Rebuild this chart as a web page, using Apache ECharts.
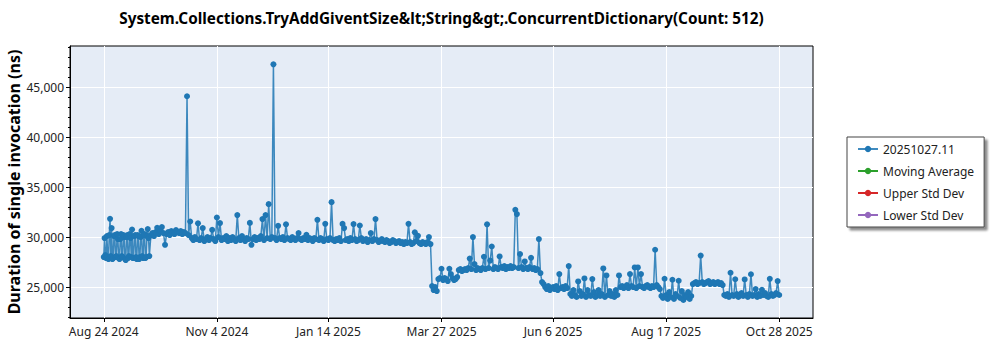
<!DOCTYPE html>
<html><head><meta charset="utf-8">
<script src="https://cdn.jsdelivr.net/npm/echarts@6/dist/echarts.min.js"></script>
<style>html,body{margin:0;padding:0;background:#fff}#c{width:1000px;height:350px}</style>
</head><body><div id="c"></div>
<script>
const titleText = 'System.Collections.TryAddGiventSize&lt;String&gt;.ConcurrentDictionary(Count: 512)';
const yAxisTitle = 'Duration of single invocation (ns)';
const seriesNames = ['20251027.11', 'Moving Average', 'Upper Std Dev', 'Lower Std Dev'];
const seriesColors = ['#1f77b4', '#2ca02c', '#d62728', '#9467bd'];
// one run per day starting at this date
const startDate = '2024-08-24';
const durations = [
  28000, 28200, 30100, 27800, 31830, 30900, 27900, 30200, 28100, 29800,
  27800, 30300, 28000, 30000, 27700, 30200, 28100, 29900, 30760, 27900,
  30200, 27800, 30100, 28000, 30630, 27900, 30300, 28000, 30800, 28100,
  30200, 30400, 30100, 30500, 30930, 30300, 30600, 31000, 30400, 29230,
  30300, 30500, 30200, 30600, 30400, 30300, 30700, 30500, 30400, 30600,
  30300, 30500, 30400, 44100, 30200, 31560, 29900, 29700, 30000, 29800,
  31380, 29700, 29900, 30900, 29600, 29800, 30000, 29700, 29900, 30730,
  29800, 29600, 31960, 30000, 31400, 29700, 29900, 29800, 30100, 29600,
  29900, 29700, 30000, 29800, 29600, 32200, 29900, 29700, 30100, 29800,
  29600, 29900, 29800, 31420, 29230, 29800, 30000, 29700, 29900, 29800,
  30100, 31800, 29700, 32200, 29900, 33300, 29800, 30000, 47300, 29900,
  29700, 31130, 29900, 29800, 30000, 29700, 31280, 29900, 29800, 29700,
  30000, 29800, 29700, 29900, 30400, 29800, 29700, 29900, 29800, 30230,
  29700, 29900, 29800, 29600, 29900, 29800, 31730, 29700, 29900, 29800,
  29600, 31330, 29800, 29700, 29900, 33500, 29700, 29600, 29800, 29700,
  29900, 29600, 31320, 30900, 29700, 29800, 29600, 29900, 29700, 31300,
  29800, 29600, 29700, 31160, 29900, 29600, 29700, 29800, 29500, 29700,
  30400, 29600, 29800, 31800, 29700, 29500, 29600, 29800, 29600, 29500,
  29700, 29600, 29400, 29500, 29700, 29600, 29400, 29500, 29600, 29400,
  29500, 29300, 29500, 29400, 31330, 29500, 29300, 29400, 30480, 29600,
  30130, 29400, 29300, 29500, 29400, 29300, 29500, 30000, 29300, 25100,
  24700, 25000, 24600, 25800, 25900, 26830, 25700, 25900, 25800, 25600,
  26830, 26300, 25900, 25700, 25800, 26000, 26700, 26800, 26600, 26700,
  26800, 26700, 26900, 27850, 26800, 30000, 27300, 26700, 26900, 26800,
  26700, 26900, 28030, 26800, 31280, 26900, 27650, 29060, 26800, 27000,
  26900, 26800, 28060, 27000, 26900, 27100, 26800, 27000, 26900, 27100,
  26900, 27000, 32730, 32300, 26900, 28300, 27000, 26800, 27560, 26900,
  26800, 27000, 27920, 26800, 26900, 26700, 26800, 29800, 26400, 25500,
  25300, 25000, 24800, 25100, 24700, 24900, 25000, 24800, 25100, 24700,
  26300, 24900, 25000, 24800, 25100, 24900, 27100, 24300, 24100, 24700,
  24200, 24000, 25560, 24600, 24100, 24300, 25860, 24000, 24700, 24200,
  24100, 25800, 24500, 24000, 24200, 24700, 24100, 24300, 26860, 24000,
  26160, 24200, 24600, 24100, 24300, 24000, 24700, 24200, 26160, 25000,
  25100, 24900, 25000, 25200, 24900, 26300, 25100, 25000, 26960, 24900,
  26960, 25100, 26300, 25000, 24900, 25100, 25200, 25000, 24900, 25100,
  25000, 28730, 25200, 25000, 24800, 24100, 23900, 25830, 24200, 23800,
  24500, 24000, 25730, 23800, 24300, 24100, 25630, 23900, 24600, 23700,
  24200, 24000, 24500, 23800, 24100, 25300, 25400, 25500, 25300, 25400,
  28150, 25500, 25300, 25400, 25500, 25600, 25300, 25400, 25500, 25300,
  25400, 25500, 25300, 25400, 25200, 24200, 24100, 24300, 24000, 26430,
  24200, 24100, 25780, 24300, 24000, 24200, 24400, 24100, 25760, 24200,
  24000, 24300, 26280, 24100, 24200, 24800, 24000, 24300, 24100, 24730,
  24200, 24400, 24100, 24000, 25820, 24300, 24100, 24200, 24400, 25600,
  24200
];
// second (midday) run on each of the first days
const earlyMiddayDurations = [
  29900, 27900, 28000, 30200, 28100, 27800, 30100, 28000, 30300, 27900,
  29800, 28100, 30200, 27800, 30000, 27900, 30300, 28000, 27900, 30100,
  28000, 30200, 27800, 30000, 28100, 30200, 27900, 30100, 29900
];
const xTickDates = ['2024-08-24', '2024-11-04', '2025-01-14', '2025-03-27', '2025-06-06', '2025-08-17', '2025-10-28'];
const yTickValues = [25000, 30000, 35000, 40000, 45000];
const yMinorTickValues = [22000, 23000, 24000, 25000, 26000, 27000, 28000, 29000, 30000, 31000, 32000, 33000, 34000, 35000,
  36000, 37000, 38000, 39000, 40000, 41000, 42000, 43000, 44000, 45000, 46000, 47000, 48000, 49000];

const DAY = 86400000;
const MONTHS = ['Jan','Feb','Mar','Apr','May','Jun','Jul','Aug','Sep','Oct','Nov','Dec'];
function toTs(s) { const p = s.split('-').map(Number); return Date.UTC(p[0], p[1] - 1, p[2]); }
const t0 = toTs(startDate);
const mainData = durations.map((v, i) => [t0 + i * DAY, v])
  .concat(earlyMiddayDurations.map((v, i) => [t0 + i * DAY + DAY / 2, v]))
  .sort((a, b) => a[0] - b[0]);
const tFirst = mainData[0][0], tLast = mainData[mainData.length - 1][0];
const xPad = (tLast - tFirst) * 0.05;
const xTicks = xTickDates.map(toTs);
function fmtDate(v) { const d = new Date(v); return MONTHS[d.getUTCMonth()] + ' ' + d.getUTCDate() + ' ' + d.getUTCFullYear(); }

const FONT = '"Noto Sans", "Open Sans", sans-serif';
const chart = echarts.init(document.getElementById('c'), null, {renderer: 'svg', width: 1000, height: 350});
chart.setOption({
  animation: false,
  textStyle: {fontFamily: FONT},
  grid: {left: 70, top: 46, right: 187, bottom: 32, show: true, backgroundColor: '#E5ECF6',
    borderColor: '#000', borderWidth: 1, containLabel: false, outerBoundsMode: 'none'},
  graphic: [
    {type: 'text', x: 441.5, y: 18, style: {text: titleText, x: 0, y: 0, align: 'center', verticalAlign: 'middle',
      font: 'bold 15.3px ' + FONT, fill: '#000'}},
    {type: 'text', rotation: Math.PI / 2, x: 14, y: 182, style: {text: yAxisTitle, x: 0, y: 0, align: 'center', verticalAlign: 'middle',
      font: 'bold 16px ' + FONT, fill: '#000'}}
  ],
  xAxis: {
    type: 'value', min: tFirst - xPad, max: tLast + xPad,
    axisLine: {show: true, lineStyle: {color: '#000', width: 1}},
    axisTick: {show: true, customValues: xTicks, length: 4, lineStyle: {color: '#000'}},
    axisLabel: {customValues: xTicks, formatter: fmtDate, fontSize: 12, color: '#222', margin: 7, fontFamily: FONT},
    splitLine: {show: true, lineStyle: {color: '#fff', width: 1}}
  },
  yAxis: [{
    type: 'value', min: 21900, max: 49130,
    axisLine: {show: true, lineStyle: {color: '#000', width: 1}},
    axisTick: {show: true, customValues: yTickValues, length: 4, lineStyle: {color: '#000'}},
    axisLabel: {customValues: yTickValues, formatter: v => v.toLocaleString('en-US'), fontSize: 12, color: '#222', margin: 6, fontFamily: FONT},
    splitLine: {show: true, lineStyle: {color: '#fff', width: 1}}
  }, {
    type: 'value', min: 21900, max: 49130, position: 'left',
    axisLine: {show: false},
    axisTick: {show: true, customValues: yMinorTickValues, length: 2, lineStyle: {color: '#000'}},
    axisLabel: {show: false},
    splitLine: {show: false}
  }],
  legend: {
    orient: 'vertical', left: 847, top: 137, padding: [5, 10, 5, 10], itemGap: 8, itemWidth: 20, itemHeight: 8,
    backgroundColor: '#fff', borderColor: '#444', borderWidth: 1, borderRadius: 0,
    shadowColor: 'rgba(0,0,0,0.45)', shadowBlur: 2, shadowOffsetX: 3, shadowOffsetY: 3,
    textStyle: {fontSize: 12, color: '#222', lineHeight: 14, fontFamily: FONT},
    data: seriesNames
  },
  series: [
    {name: seriesNames[0], type: 'line', data: mainData, color: seriesColors[0], symbol: 'circle', symbolSize: 6,
      showAllSymbol: true, lineStyle: {width: 1.5, color: seriesColors[0], opacity: 0.85}, itemStyle: {color: seriesColors[0]}, z: 3},
    {name: seriesNames[1], type: 'line', data: [], color: seriesColors[1], symbol: 'circle', symbolSize: 6, lineStyle: {width: 1.5}},
    {name: seriesNames[2], type: 'line', data: [], color: seriesColors[2], symbol: 'circle', symbolSize: 6, lineStyle: {width: 1.5}},
    {name: seriesNames[3], type: 'line', data: [], color: seriesColors[3], symbol: 'circle', symbolSize: 6, lineStyle: {width: 1.5}}
  ]
});
</script></body></html>
